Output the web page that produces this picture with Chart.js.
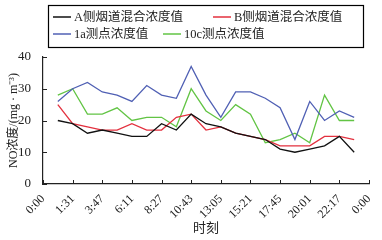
<!DOCTYPE html>
<html><head><meta charset="utf-8">
<script src="https://cdn.jsdelivr.net/npm/chart.js@4"></script>
<style>html,body{margin:0;padding:0;background:#fff}#wrap{width:382px;height:240px}</style>
</head><body><div id="wrap"><canvas id="c" width="382" height="240"></canvas></div>
<script>
const tickLabels = ["0:00","1:31","3:47","6:11","8:27","10:43","13:05","15:21","17:45","20:01","22:17","0:00"];
const seriesNames = ["A侧烟道混合浓度值","B侧烟道混合浓度值","1a测点浓度值","10c测点浓度值"];
const seriesA = [20,19,16,17,16,15,15,19,17,22,19,18,16,15,14,11,10,11,12,15,10];
const seriesB = [25,19,18,17,17,19,17,17,21,22,17,18,16,15,14,12,12,12,15,15,14];
const series1a = [26,30,32,29,28,26,31,28,27,37,28,21,29,29,27,24,14,26,20,23,21];
const series10c = [28,30,22,22,24,20,21,21,18,30,23,20,25,22,13,14,16,13,28,20,20];
const colors = ["#111111","#e3303e","#5060b4","#62c444"];

const serif = "'Liberation Serif','Noto Sans CJK SC',serif";
function pts(arr){ return arr.map((v,i)=>({x:i+1,y:v})); }

const legendBox = {
  id:'legendBox',
  afterDraw(chart){
    const ctx = chart.ctx;
    ctx.save();
    const x0=48,y0=5,w=315,h=42;
    ctx.strokeStyle='#000'; ctx.lineWidth=1.2;
    ctx.strokeRect(x0+0.5,y0+0.5,w,h);
    ctx.font = "12.5px "+serif;
    ctx.textBaseline='middle';
    const pos = [[53,17],[213,17],[53,34],[163,34]];
    chart.data.datasets.forEach((ds,i)=>{
      const [px,py]=pos[i];
      ctx.strokeStyle=ds.borderColor; ctx.lineWidth=1.5;
      ctx.beginPath(); ctx.moveTo(px,py); ctx.lineTo(px+18,py); ctx.stroke();
      ctx.fillStyle='#222';
      ctx.fillText(ds.label,px+21,py+1);
    });
    const xs=chart.scales.x, ys=chart.scales.y;
    ctx.strokeStyle='#222'; ctx.lineWidth=1;
    for(let v=0;v<=22;v+=2){
      const px=Math.round(xs.getPixelForValue(v))+0.5;
      ctx.beginPath(); ctx.moveTo(px,ys.bottom); ctx.lineTo(px,ys.bottom-4); ctx.stroke();
    }
    for(let v=0;v<=40;v+=10){
      const py=Math.round(ys.getPixelForValue(v))+0.5;
      ctx.beginPath(); ctx.moveTo(xs.left,py); ctx.lineTo(xs.left+4,py); ctx.stroke();
    }
    ctx.restore();
  }
};

new Chart(document.getElementById('c'),{
  type:'line',
  data:{datasets:[
    {label:seriesNames[0],data:pts(seriesA),borderColor:colors[0]},
    {label:seriesNames[1],data:pts(seriesB),borderColor:colors[1]},
    {label:seriesNames[2],data:pts(series1a),borderColor:colors[2]},
    {label:seriesNames[3],data:pts(series10c),borderColor:colors[3]}
  ].map(d=>Object.assign(d,{borderWidth:1.3,pointRadius:0,tension:0,fill:false}))},
  options:{
    responsive:false,animation:false,
    layout:{padding:{top:57,right:13,left:2,bottom:0}},
    plugins:{legend:{display:false},tooltip:{enabled:false}},
    scales:{
      x:{type:'linear',min:0,max:22,
        afterFit:(s)=>{s.height=56;},
        ticks:{stepSize:2,autoSkip:false,maxRotation:45,minRotation:45,color:'#222',padding:0,
          font:{family:serif,size:12},
          callback:(v)=>tickLabels[v/2]},
        grid:{display:false},border:{display:true,color:'#222',width:1.2},
        title:{display:true,text:'时刻',color:'#222',font:{family:serif,size:13},padding:{top:0,bottom:4}}
      },
      y:{min:0,max:40,
        afterFit:(s)=>{s.width=41;},
        ticks:{stepSize:10,color:'#222',padding:4,font:{family:serif,size:13}},
        grid:{display:false},border:{display:true,color:'#222',width:1.2},
        title:{display:true,text:'NO浓度/(mg · m⁻³)',color:'#222',font:{family:serif,size:12},padding:{top:5,bottom:0}}
      }
    }
  },
  plugins:[legendBox]
});
</script></body></html>
